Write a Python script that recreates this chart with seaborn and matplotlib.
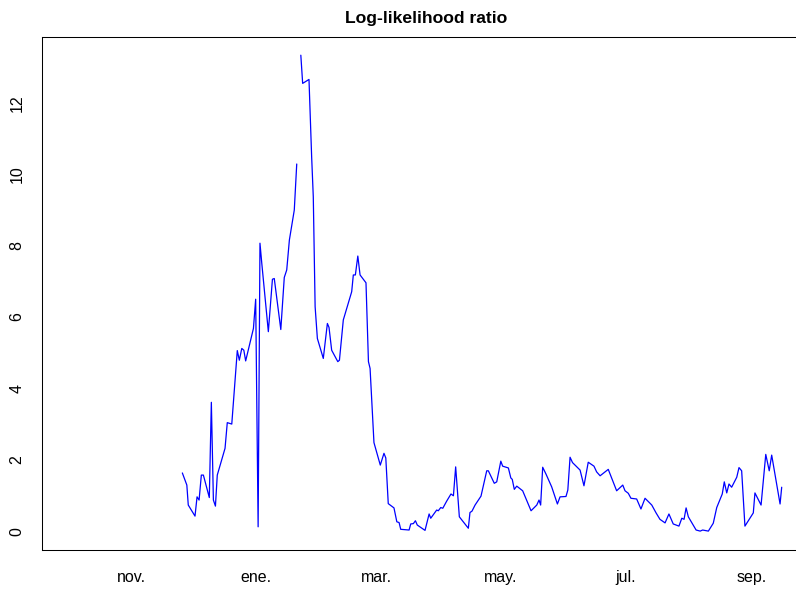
import numpy as np
import pandas as pd
import matplotlib
matplotlib.use("Agg")
import matplotlib.pyplot as plt
import matplotlib.dates as mdates
import seaborn as sns

# Days since 2020-11-01 and log-likelihood ratio values
days_a = [25.1, 27.3, 28.0, 31.3, 32.3, 33.3, 34.4, 35.4, 38.3, 39.3, 40.3, 41.3,
          42.2, 46.0, 47.1, 49.3, 52.0, 53.0, 54.2, 55.2, 56.1, 59.9, 61.0, 62.2,
          63.1, 64.0, 67.2, 69.2, 70.1, 73.3, 75.0, 76.2, 77.5, 79.9, 81.1]
vals_a = [1.63, 1.29, 0.73, 0.42, 0.96, 0.87, 1.57, 1.57, 0.94, 3.61, 0.87, 0.70,
          1.57, 2.32, 3.04, 3.00, 5.06, 4.79, 5.12, 5.07, 4.77, 5.68, 6.50, 0.12,
          8.07, 7.50, 5.59, 7.06, 7.08, 5.65, 7.11, 7.32, 8.16, 9.00, 10.29]

days_b = [83.1, 84.0, 87.1, 88.4, 89.2, 90.1, 91.2, 94.1, 96.1, 96.9, 98.2, 101.2,
          102.0, 103.9, 108.0, 108.8, 109.8, 111.0, 112.1, 115.0, 116.2, 117.0, 118.9,
          122.0, 123.8, 124.7, 125.9, 128.7, 130.1, 131.2, 132.0, 136.1, 136.9, 138.2,
          139.2, 140.1, 143.9, 145.9, 146.7, 149.6, 150.4, 151.6, 152.6, 154.5, 156.6,
          157.8, 158.9, 160.7, 165.1, 165.9, 166.9, 168.4, 171.3, 174.1, 174.9, 177.8,
          179.0, 181.0, 181.9, 184.7, 185.9, 186.6, 187.6, 188.8, 191.7, 195.8, 198.6,
          199.7, 200.5, 201.5, 203.1, 205.9, 208.7, 210.0, 212.9, 213.8, 214.9, 216.1,
          219.8, 221.7, 223.8, 226.6, 227.9, 229.6, 233.6, 237.7, 240.7, 241.8, 243.4,
          244.7, 247.5, 249.6, 251.6, 254.9, 257.0, 258.9, 261.4, 263.3, 265.4, 268.2,
          269.6, 270.7, 271.7, 272.8, 276.6, 278.6, 279.8, 282.6, 285.0, 286.7, 289.4,
          290.4, 291.6, 292.7, 294.0, 296.5, 297.6, 298.9, 300.5, 304.6, 305.4, 308.4,
          310.7, 312.4, 313.6, 317.7, 318.5]
vals_b = [13.34, 12.55, 12.66, 10.49, 9.37, 6.29, 5.40, 4.84, 5.82, 5.71, 5.07, 4.75,
          4.79, 5.92, 6.71, 7.18, 7.18, 7.71, 7.18, 6.96, 4.75, 4.56, 2.48,
          1.85, 2.18, 2.05, 0.77, 0.65, 0.26, 0.24, 0.05, 0.03, 0.20, 0.21,
          0.29, 0.17, 0.02, 0.48, 0.36, 0.59, 0.57, 0.66, 0.64, 0.84, 1.04,
          0.99, 1.80, 0.40, 0.08, 0.52, 0.56, 0.73, 0.98, 1.69, 1.69, 1.34,
          1.38, 1.96, 1.82, 1.77, 1.49, 1.45, 1.17, 1.26, 1.13, 0.57, 0.73,
          0.87, 0.73, 1.79, 1.60, 1.24, 0.76, 0.96, 0.97, 1.15, 2.07, 1.92,
          1.71, 1.27, 1.93, 1.82, 1.66, 1.55, 1.73, 1.13, 1.29, 1.13, 1.06,
          0.92, 0.90, 0.62, 0.92, 0.73, 0.51, 0.33, 0.23, 0.48, 0.20, 0.14,
          0.36, 0.33, 0.65, 0.40, 0.03, 0.00, 0.03, 0.00, 0.22, 0.66, 1.04,
          1.38, 1.07, 1.32, 1.23, 1.51, 1.78, 1.69, 0.14, 0.51, 1.07, 0.73,
          2.15, 1.69, 2.13, 0.76, 1.23]

tick_dates = ["2020-11-01", "2021-01-01", "2021-03-01", "2021-05-01", "2021-07-01", "2021-09-01"]
tick_labels = ["nov.", "ene.", "mar.", "may.", "jul.", "sep."]
y_ticks = [0, 2, 4, 6, 8, 10, 12]

origin = pd.Timestamp("2020-11-01")
df = pd.concat([
    pd.DataFrame({"date": origin + pd.to_timedelta(days_a, unit="D"), "llr": vals_a, "seg": "a"}),
    pd.DataFrame({"date": origin + pd.to_timedelta(days_b, unit="D"), "llr": vals_b, "seg": "b"}),
], ignore_index=True)

sns.set_style("white")
plt.rcParams["font.family"] = ["Liberation Sans", "DejaVu Sans"]
plt.rcParams["text.color"] = "black"

fig = plt.figure(figsize=(7.96, 5.89), dpi=100)
right_px = 810
ax = fig.add_axes([42 / 796, 39 / 589, (right_px - 42) / 796, (550 - 37) / 589])

for seg in ["a", "b"]:
    sns.lineplot(data=df[df["seg"] == seg], x="date", y="llr", color="#0000FF",
                 linewidth=0.9, ax=ax, sort=True, estimator=None)

x0 = origin + pd.Timedelta(days=-43.6)
x1 = origin + pd.Timedelta(days=(right_px - 131) / 2.043)
ax.set_xlim(x0, x1)
ax.set_ylim(-0.53, 13.85)

ax.set_xticks(pd.to_datetime(tick_dates))
ax.set_xticklabels(tick_labels, fontsize=11.5)
ax.set_yticks(y_ticks)
ax.set_yticklabels([str(v) for v in y_ticks], rotation=90, va="center", fontsize=11.5)
ax.tick_params(axis="both", direction="out", length=5.5, width=0.75, color="black",
               labelcolor="black")
ax.tick_params(axis="x", pad=9)
ax.tick_params(axis="y", pad=7)
ax.set_xlabel("")
ax.set_ylabel("")
for s in ax.spines.values():
    s.set_color("black")
    s.set_linewidth(0.75)
    s.set_visible(True)

fig.text((42 + right_px) / 2 / 796, 1 - 18 / 589, "Log-likelihood ratio", ha="center",
         va="center", fontsize=12.6, fontweight="bold", color="black")

fig.savefig("out.png", dpi=100)
